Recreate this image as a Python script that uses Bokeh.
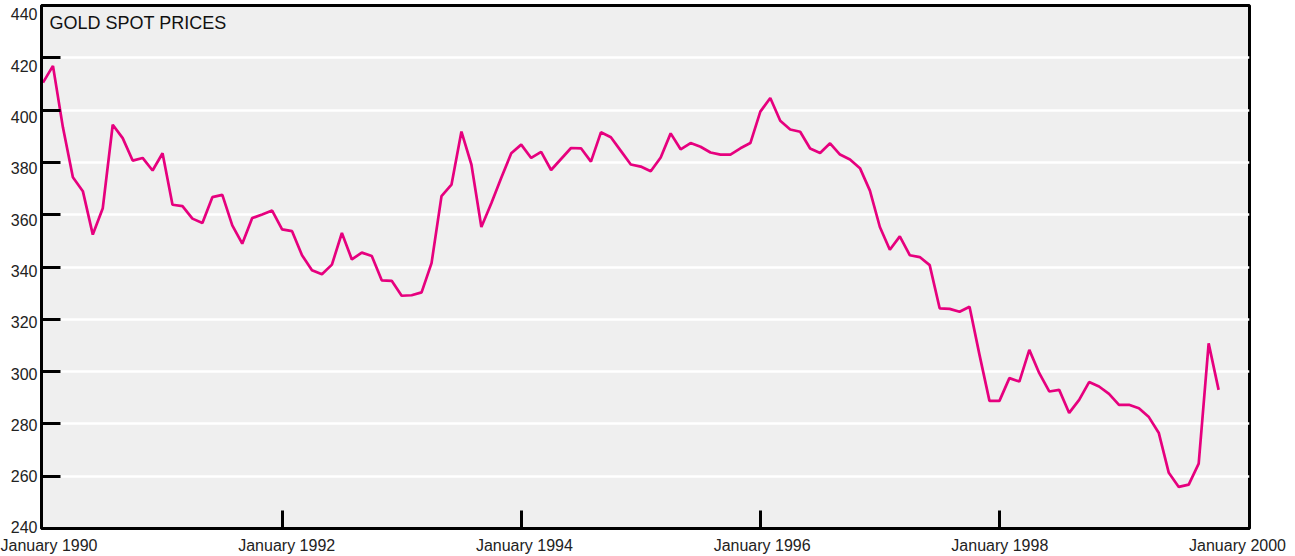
from bokeh.plotting import figure
from bokeh.models import Range1d, LinearAxis, FixedTicker, Label
from bokeh.embed import file_html
from bokeh.resources import INLINE

# ---- data (monthly gold spot price, US$/oz, starting January 1990) ----
gold_price = [
    410.5, 416.9, 393.4, 374.3, 369.0, 352.4, 362.5, 394.4, 389.3, 380.7, 381.7, 376.9,
    383.5, 363.8, 363.3, 358.5, 356.8, 366.7, 367.6, 355.9, 348.9, 358.7, 360.1, 361.6,
    354.4, 353.7, 344.5, 338.8, 337.2, 340.9, 353.0, 342.9, 345.5, 344.2, 334.9, 334.7,
    329.0, 329.2, 330.3, 341.5, 367.1, 371.5, 391.8, 379.2, 355.3, 364.4, 374.1, 383.5,
    386.8, 381.7, 384.0, 377.1, 381.3, 385.5, 385.4, 380.3, 391.5, 389.6, 384.4, 379.2,
    378.4, 376.6, 381.9, 391.1, 385.0, 387.4, 386.0, 383.8, 383.0, 383.0, 385.4, 387.4,
    399.4, 404.6, 395.9, 392.6, 391.7, 385.3, 383.6, 387.3, 383.0, 381.1, 377.8, 369.2,
    355.3, 346.6, 351.7, 344.5, 343.8, 340.7, 324.2, 324.0, 322.9, 324.8, 306.4, 288.8,
    288.8, 297.5, 296.2, 308.3, 299.4, 292.4, 293.0, 284.2, 289.2, 296.0, 294.3, 291.5,
    287.3, 287.3, 286.0, 282.6, 276.5, 261.3, 255.9, 256.8, 264.8, 310.8, 293.0,
]
month_index = list(range(len(gold_price)))  # months since January 1990

x_tick_months = [0, 24, 48, 72, 96, 120]
x_tick_labels = ["January 1990", "January 1992", "January 1994",
                 "January 1996", "January 1998", "January 2000"]
x_tick_marks = [24, 48, 72, 96]
y_ticks = [240, 260, 280, 300, 320, 340, 360, 380, 400, 420, 440]
title_text = "GOLD SPOT PRICES"

LINE_COLOR = "#e6007e"
BG = "#efefef"
FONT = "Liberation Sans"
TXT = "#222222"

x_start, x_end = -0.15, 121.1

W, H = 1292, 556
p = figure(width=W, height=H, output_backend="svg", toolbar_location=None,
           x_range=Range1d(x_start, x_end), y_range=Range1d(240, 440),
           min_border_left=41, min_border_right=W - 1249, min_border_top=5,
           min_border_bottom=27)

p.background_fill_color = BG
p.border_fill_color = "white"
p.outline_line_color = "black"
p.outline_line_width = 3

# grid
p.xgrid.grid_line_color = None
p.ygrid.ticker = FixedTicker(ticks=y_ticks[1:-1])
p.ygrid.grid_line_color = "white"
p.ygrid.grid_line_width = 2.5

def ticks_only(ax):
    ax.axis_line_color = "black"
    ax.axis_line_width = 3
    ax.major_tick_out = 0
    ax.major_tick_line_width = 3
    ax.major_tick_line_color = "black"
    ax.minor_tick_line_color = None
    ax.major_label_text_color = None
    ax.major_label_text_font_size = "0px"
    ax.major_label_standoff = 0

# y axis: line and inward ticks
yax = p.yaxis[0]
yax.ticker = FixedTicker(ticks=y_ticks)
ticks_only(yax)
yax.major_tick_in = 19

# x axis: line and inward ticks
xax = p.xaxis[0]
xax.ticker = FixedTicker(ticks=x_tick_marks)
ticks_only(xax)
xax.major_tick_in = 18

# tick labels, placed as in the original print layout
p.extra_y_ranges = {"ylbl": Range1d(239.61, 443.50)}
p.extra_x_ranges = {"xlbl": Range1d(-0.757, 121.21)}

ylab = LinearAxis(y_range_name="ylbl", ticker=FixedTicker(ticks=y_ticks),
                  axis_line_color=None, major_tick_line_color=None,
                  minor_tick_line_color=None, major_tick_in=0, major_tick_out=0,
                  major_label_standoff=4, major_label_text_font=FONT,
                  major_label_text_font_size="16px", major_label_text_color=TXT)
p.add_layout(ylab, "left")

xlab = LinearAxis(x_range_name="xlbl", ticker=FixedTicker(ticks=x_tick_months),
                  major_label_overrides={m: t for m, t in zip(x_tick_months, x_tick_labels)},
                  axis_line_color=None, major_tick_line_color=None,
                  minor_tick_line_color=None, major_tick_in=0, major_tick_out=0,
                  major_label_standoff=8, major_label_text_font=FONT,
                  major_label_text_font_size="16px", major_label_text_color=TXT)
p.add_layout(xlab, "below")

# title inside the frame
p.add_layout(Label(x=x_start, y=440, text=title_text, x_offset=8, y_offset=-7,
                   text_align="left", text_baseline="top", text_font=FONT,
                   text_font_size="18px", text_color="#111111"))

p.line(month_index, gold_price, line_color=LINE_COLOR, line_width=2.7)

open("out.html", "w").write(file_html(p, INLINE))
